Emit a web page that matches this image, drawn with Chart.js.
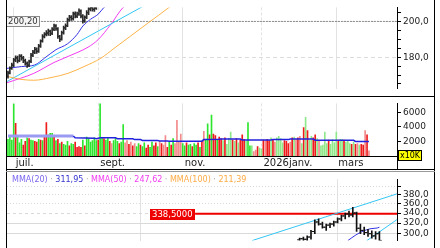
<!DOCTYPE html>
<html>
<head>
<meta charset="utf-8">
<script src="https://cdn.jsdelivr.net/npm/chart.js@4.4.1/dist/chart.umd.min.js"></script>
<style>
body { margin: 0; background: #fff; }
#wrap { position: relative; width: 440px; height: 248px; overflow: hidden; background: #fff; font-family: "DejaVu Sans", sans-serif; }
canvas { position: absolute; left: 0; }
.ln { position: absolute; background: #000; }
#legend { position: absolute; left: 7px; top: 174px; padding-left: 5px; padding-right: 3px; font-size: 8px; line-height: 11px; white-space: nowrap; background: #fff; }
#legend .sep { color: #aaa; }
#x10k { position: absolute; left: 398px; top: 150px; width: 22px; height: 9px; background: #ffff00; border: 1px solid #000; font-size: 8px; line-height: 9px; text-align: center; color: #000; }
</style>
</head>
<body>
<div id="wrap">
  <canvas id="top" width="440" height="96" style="top:0"></canvas>
  <canvas id="vol" width="440" height="74" style="top:96px"></canvas>
  <canvas id="wk" width="440" height="76" style="top:172px"></canvas>
  <div class="ln" style="left:6px;top:0;width:1px;height:248px"></div>
  <div class="ln" style="left:434px;top:0;width:1px;height:248px"></div>
  <div class="ln" style="left:6px;top:96px;width:429px;height:1px"></div>
  <div class="ln" style="left:6px;top:156px;width:392px;height:1px"></div>
  <div class="ln" style="left:397px;top:156px;width:1px;height:14px"></div>
  <div class="ln" style="left:6px;top:169px;width:429px;height:1px"></div>
  <div class="ln" style="left:6px;top:171px;width:429px;height:1px;background:#999"></div>
  <div id="legend"></div>
  <div id="x10k">x10K</div>
</div>
<script>
// daily bars of the upper pane (the later days run off the top of it)
const dOpen  = [169.5,171.5,174,175.5,178.5,179.8,178.3,180.8,179.8,178.2,176.4,175.5,177.8,181.3,183,184.6,183.5,186.5,189.4,191.5,193.2,193.5,194.6,193.6,195.9,197.8,196,191.7,190.3,193.9,196.4,197.9,201.3,202.7,201.7,204.6,203.1,204.6,205.9,203.1,200.6,202.7,205,207.3,207.8,206.9,207.9,209.3];
const dHigh  = [172.3,174.6,176.8,179.5,180.9,180.7,181.6,181.5,180.6,179,177.4,178.4,182.2,183.9,185.6,185.4,187.3,189.9,192.8,193.9,195,195.9,195.4,196.8,198.7,198.5,196.8,192.4,194.8,197.6,198.8,202.1,203.6,203.5,205.4,205.6,205.5,207.3,206.8,204,203.4,206.3,208.3,209.1,209,208.7,210.2,211.6];
const dLow   = [168.2,170.6,173.2,174.8,177.6,176.9,177.5,178.4,177,175.6,174.3,174.8,177,180.4,182.1,182.2,182.8,185.6,188.6,190.9,192.1,192.4,192.2,192.8,195,195.1,190.6,188.8,189.6,193,195.6,197.2,200.3,200.8,200.9,202.2,202.3,203.6,202.2,199.2,199.6,201.8,204,206.1,206,205.9,206.9,208.5];
const dClose = [171,173.8,175.7,178.6,179.5,178,180.5,179.5,178,176.7,175.7,177.6,181,182.9,184.3,183.3,186.2,189,191.9,192.9,193.8,194.8,193.3,195.7,197.6,196.2,191.9,190,193.8,196.7,197.6,201,202.4,201.9,204.3,203.3,204.3,206.2,203.3,200.5,202.4,205.2,207.1,208,207.1,207.6,209,210.5];

// moving averages / trend line of the upper pane, [day index, price]
const ma20Day  = [[-0.5,173.8],[7,174.8],[14,175.7],[19,179.5],[25,184.3],[31,187.6],[36,192.9],[39,197.6],[43,201.4],[47,204.3],[50,208.1],[53,211]];
const ma50Day  = [[-0.5,165.7],[13.5,171],[24,177.1],[36.5,182.9],[41.7,185.7],[47,190],[53.6,198.6],[60,208.1],[62,209.5]];
const ma100Day = [[-0.5,169.3],[6.8,167.6],[13.5,167.1],[22.4,168.6],[31.3,171],[39.6,174.8],[48.4,179.5],[55.2,185],[64,192.1],[72.9,199.3],[83.9,208.1],[86,210]];
const trendDay = [[-0.5,166.4],[69.3,208.1],[75,211.5]];
const lastRef = 200.20;
const priceTicks = [165,170,175,180,185,190,195,200,205];

// volume, x10K
const volume = [
2300,2600,2200,7200,4500,2600,1800,2300,1500,2000,2500,2400,2200,2100,2000,1900,2300,2200,2100,2600,
4600,2900,3100,3100,2700,2100,2300,1700,1900,1600,1500,2000,1400,1700,1600,1900,1200,1300,1200,2200,
1400,2600,2400,1900,2100,2500,2100,2200,7300,2500,2400,2200,2500,2000,1700,2100,2400,2000,1700,1900,
4300,1800,2100,1600,1900,1400,1700,1300,1700,1500,1300,1800,1100,1500,1200,1900,1400,1800,1300,2000,
1700,1500,2800,1200,1900,1500,2400,1700,4900,2000,3000,1700,1400,1800,1500,1600,1300,1700,1500,1800,
1200,2000,3400,2300,4400,2900,5600,3000,2800,2300,2600,2400,2100,2500,1600,2400,3300,2200,2000,2400,
1800,2200,2900,2300,2000,4600,1400,1400,600,800,1300,1100,1000,2200,2100,2300,2100,2500,2200,1900,
2500,2700,2400,1800,2100,2000,1700,1900,2500,2600,2300,2500,2700,1700,3900,5300,3500,2200,2700,2500,
2900,2400,2000,1400,1500,3300,1700,2200,1600,2300,1800,3300,2200,2300,2300,2200,1900,2000,1700,1600,
1900,1600,1700,1500,1600,1500,3500,2900,700];
// 1 up, -1 down, 2 weak up, -2 weak down
const volDir = [
1,1,1,1,-1,1,1,1,-1,-1,1,-1,1,1,-1,-1,1,-1,1,-1,
-1,1,1,1,-1,1,-1,1,-1,1,1,1,-1,1,1,-1,-1,-1,-1,1,
-1,1,1,1,1,1,1,-1,1,1,-1,1,1,-1,-2,1,1,1,-1,1,
1,-2,-2,-1,-2,-1,-2,1,1,-1,1,1,-1,-1,1,1,-1,-1,1,-2,
-1,-2,-2,-1,1,-1,1,-2,-2,-2,-2,1,1,-1,1,1,-1,1,1,-1,
1,-1,-2,1,1,-1,1,-1,-1,1,-1,-1,2,-1,2,2,2,-1,2,-1,
2,-1,-1,-1,2,1,1,2,-2,-2,-1,2,2,-1,-2,-1,-1,2,-1,-2,
2,2,2,2,-1,-1,-1,-2,-1,2,-2,-1,-2,2,-1,2,-1,2,2,-1,
-1,2,-2,2,2,2,2,-1,2,2,2,2,-1,2,2,-1,2,2,2,-1,
2,-1,-2,2,-1,-1,-2,-1,-2];
const volAvg = [[0,2750],[34,2750],[35,2500],[45,2450],[46,2370],[48,2490],[56,2490],[57,2370],[65,2370],[66,2250],[69,2250],[70,2130],[78,2130],[79,2070],[83,2070],[84,2040],[101,2040],[102,2250],[110,2300],[111,2330],[121,2330],[122,2200],[137,2200],[138,2250],[146,2250],[147,2330],[159,2330],[160,2170],[166,2170],[167,2150],[180,2150],[181,2000],[188,2000]];
const volTicks = [2000,4000,6000];

const monthTicks = [3, 47, 91, 132, 171];
const monthNames = ['juil.', 'sept.', 'nov.', '2026janv.', 'mars'];

// weekly bars of the lower pane, weeks counted from the first week of 2025
const wFirst = 42;
const wOpen  = [289,291,290,294,304,322,318,312,316,318,322,328,334,338,336,340,310,306,302,300,296,300];
const wHigh  = [292,294,296,306,326,328,322,318,320,324,330,336,340,344,352,342,318,312,308,305,304,304];
const wLow   = [284,287,286,290,300,316,310,306,311,314,320,324,328,332,332,304,300,298,295,292,290,286];
const wClose = [291,290,294,304,322,318,312,316,318,322,328,334,338,336,340,310,306,302,300,296,300,288];
const ma20Week = [[54.7,287.7],[56.8,297.7],[58.9,305.3],[60.8,309.3],[62.4,310.5],[63,311.95]];
const chanUpper = [[29.5,287.7],[67.6,381.7]];
const chanLower = [[59.7,287.7],[67.6,326.5]];
const resistance = 338.5;
const yearTicks = [0, 52];
const weekTicks = [300,320,340,360,380,400];

const maNames = ['MMA(20)', 'MMA(50)', 'MMA(100)'];
const maLast = [311.95, 247.62, 211.39];

Chart.defaults.font.family = '"DejaVu Sans", sans-serif';
Chart.defaults.font.size = 9;
Chart.defaults.color = '#222';

const comma = (v, d) => v.toFixed(d).replace('.', ',');
const pts = arr => arr.map(p => ({x: p[0], y: p[1]}));

const tags = {
  id: 'tags',
  afterDatasetsDraw(chart, args, opts) {
    const ctx = chart.ctx;
    (opts.items || []).forEach(t => {
      const py = Math.round(chart.scales.y.getPixelForValue(t.value));
      ctx.save();
      ctx.font = '8.5px "DejaVu Sans"';
      const w = Math.ceil(ctx.measureText(t.text).width) + 4;
      ctx.fillStyle = t.bg;
      ctx.fillRect(t.x, py - 5, w, 11);
      if (t.border) {
        ctx.strokeStyle = t.border;
        ctx.strokeRect(t.x + 0.5, py - 4.5, w - 1, 10);
      }
      ctx.fillStyle = t.color;
      ctx.textBaseline = 'middle';
      ctx.fillText(t.text, t.x + 2, py + 0.5);
      ctx.restore();
    });
  }
};

function rightAxis(ticks, label, extra) {
  return Object.assign({
    position: 'right',
    afterBuildTicks: s => { s.ticks = ticks.map(v => ({value: v})); },
    afterFit: s => { s.width = 43; },
    ticks: {padding: 2, color: '#222', font: {size: 9}, autoSkip: false, callback: label},
    grid: {color: 'rgba(0,0,0,0)', tickColor: '#000', tickLength: 4, tickWidth: 1},
    border: {display: true, color: '#000', width: 1}
  }, extra);
}

function timeAxis(tickVals, min, max, dashed, extra) {
  return Object.assign({
    type: 'linear', min: min, max: max, offset: false,
    afterBuildTicks: s => { s.ticks = tickVals.map(v => ({value: v})); },
    ticks: {display: false},
    grid: {color: '#e2e2e2', drawTicks: false, offset: false},
    border: {display: false, dash: c => (c.tick && dashed.includes(c.tick.value)) ? [3, 2] : []}
  }, extra);
}

const common = {
  responsive: false, animation: false, events: [],
  plugins: {legend: {display: false}, tooltip: {enabled: false}}
};

// upper pane: daily price
new Chart(document.getElementById('top'), {
  type: 'bar',
  plugins: [tags],
  data: {datasets: [
    {type: 'line', data: pts(ma100Day), borderColor: '#ffb347', borderWidth: 1, pointRadius: 0, cubicInterpolationMode: 'monotone', order: 2},
    {type: 'line', data: pts(trendDay), borderColor: '#33c6f4', borderWidth: 1, pointRadius: 0, order: 2},
    {type: 'line', data: pts(ma50Day), borderColor: '#f23cf2', borderWidth: 1, pointRadius: 0, cubicInterpolationMode: 'monotone', order: 2},
    {type: 'line', data: pts(ma20Day), borderColor: '#3434e6', borderWidth: 1, pointRadius: 0, cubicInterpolationMode: 'monotone', order: 2},
    {type: 'line', data: [{x: 15.6, y: lastRef}, {x: 203, y: lastRef}], borderColor: '#8a8a8a', borderWidth: 1, borderDash: [2, 1], pointRadius: 0, order: 3},
    {type: 'bar', data: dHigh.map((h, i) => ({x: i, y: [dLow[i], h]})), backgroundColor: '#2a2a2a', barThickness: 1, order: 0},
    {type: 'line', showLine: false, data: dOpen.map((o, i) => ({x: i - 0.5, y: o})), pointStyle: 'line', pointRadius: 1, pointBorderColor: '#2a2a2a', pointBorderWidth: 1, order: 0},
    {type: 'line', showLine: false, data: dClose.map((c, i) => ({x: i + 0.5, y: c})), pointStyle: 'line', pointRadius: 1, pointBorderColor: '#2a2a2a', pointBorderWidth: 1, order: 0}
  ]},
  options: Object.assign({}, common, {
    layout: {padding: {left: 7, right: 0, top: 0, bottom: 0}},
    plugins: Object.assign({}, common.plugins, {
      tags: {items: [{value: lastRef, text: comma(lastRef, 2), x: 6, bg: '#f6f6f6', border: '#8a8a8a', color: '#333'}]}
    }),
    scales: {
      x: timeAxis(monthTicks, -0.5, 202.6, [47, 132]),
      y: rightAxis(priceTicks, v => v % 20 === 0 ? comma(v, 1) : '', {
        min: 162.4, max: 208.1,
        grid: {color: c => (c.tick && c.tick.value % 20 === 0) ? '#dcdcdc' : 'rgba(0,0,0,0)', tickColor: '#000', tickLength: 4, tickWidth: 1},
        border: {display: true, color: '#000', width: 1, dash: [4, 3]}
      })
    }
  })
});

// volume pane with the month axis
const volColour = {'1': '#2ee62e', '-1': '#ee1b1b', '2': '#8fe88a', '-2': '#f38a8a'};
new Chart(document.getElementById('vol'), {
  type: 'bar',
  data: {datasets: [
    {type: 'line', data: pts(volAvg), pointRadius: 0, borderWidth: 1.5, order: 0,
     segment: {
       borderColor: c => c.p0.parsed.x < 34 ? '#9a9af2' : '#2222dd',
       borderWidth: c => c.p0.parsed.x < 34 ? 3 : 1.5
     }},
    {type: 'bar', data: volume.map((v, i) => ({x: i, y: v})),
     backgroundColor: volume.map((v, i) => volColour[String(volDir[i])]), barThickness: 1, order: 1}
  ]},
  options: Object.assign({}, common, {
    layout: {padding: {left: 7, right: 0, top: 1, bottom: 0}},
    scales: {
      x: timeAxis(monthTicks, -0.5, 202.6, [47, 132], {
        afterFit: s => { s.height = 14; },
        ticks: {display: true, align: 'start', labelOffset: 2, padding: 1, autoSkip: false, maxRotation: 0,
                font: {size: 10}, color: '#222', callback: (v, i) => monthNames[i]}
      }),
      y: rightAxis(volTicks, v => String(v), {min: 0, max: 7220})
    }
  })
});

// lower pane: weekly price, log scale
new Chart(document.getElementById('wk'), {
  type: 'bar',
  plugins: [tags],
  data: {datasets: [
    {type: 'line', data: [{x: 14.5, y: resistance}, {x: 70, y: resistance}], borderColor: '#ee0000', borderWidth: 2, pointRadius: 0, order: 3},
    {type: 'line', data: pts(chanUpper), borderColor: '#33c6f4', borderWidth: 1, pointRadius: 0, order: 2},
    {type: 'line', data: pts(chanLower), borderColor: '#33c6f4', borderWidth: 1, pointRadius: 0, order: 2},
    {type: 'line', data: pts(ma20Week), borderColor: '#3434e6', borderWidth: 1, pointRadius: 0, cubicInterpolationMode: 'monotone', order: 2},
    {type: 'bar', data: wHigh.map((h, i) => ({x: wFirst + i, y: [wLow[i], h]})), backgroundColor: '#111', barThickness: 1, order: 0},
    {type: 'line', showLine: false, data: wOpen.map((o, i) => ({x: wFirst + i - 0.4, y: o})), pointStyle: 'line', pointRadius: 1, pointBorderColor: '#111', pointBorderWidth: 1, order: 0},
    {type: 'line', showLine: false, data: wClose.map((c, i) => ({x: wFirst + i + 0.4, y: c})), pointStyle: 'line', pointRadius: 1, pointBorderColor: '#111', pointBorderWidth: 1, order: 0}
  ]},
  options: Object.assign({}, common, {
    layout: {padding: {left: 7, right: 0, top: 0, bottom: 0}},
    plugins: Object.assign({}, common.plugins, {
      tags: {items: [{value: resistance, text: comma(resistance, 4), x: 150, bg: '#ee0000', color: '#fff'}]}
    }),
    scales: {
      x: timeAxis(yearTicks, -35, 67.63, []),
      y: rightAxis(weekTicks, v => v === 400 ? '' : comma(v, 1), {
        type: 'logarithmic', min: 287.7, max: 416.7,
        grid: {color: '#d9d9d9', tickColor: '#000', tickLength: 4, tickWidth: 1},
        border: {display: true, color: '#000', width: 1,
                 dash: c => !c.tick ? [] : c.tick.value >= 360 ? [1, 2] : c.tick.value === 340 ? [3, 3] : []}
      })
    }
  })
});

// legend row of the lower pane
const nameCol = ['#7a66f0', '#f03cf0', '#ffaa44'];
const valCol = ['#3434d0', '#f03cf0', '#ffaa44'];
document.getElementById('legend').innerHTML = maNames.map((n, i) =>
  '<span style="color:' + nameCol[i] + '">' + n + '</span><span class="sep"> · </span>' +
  '<span style="color:' + valCol[i] + '">' + comma(maLast[i], 2) + '</span>'
).join('<span class="sep"> · </span>');
</script>
</body>
</html>
